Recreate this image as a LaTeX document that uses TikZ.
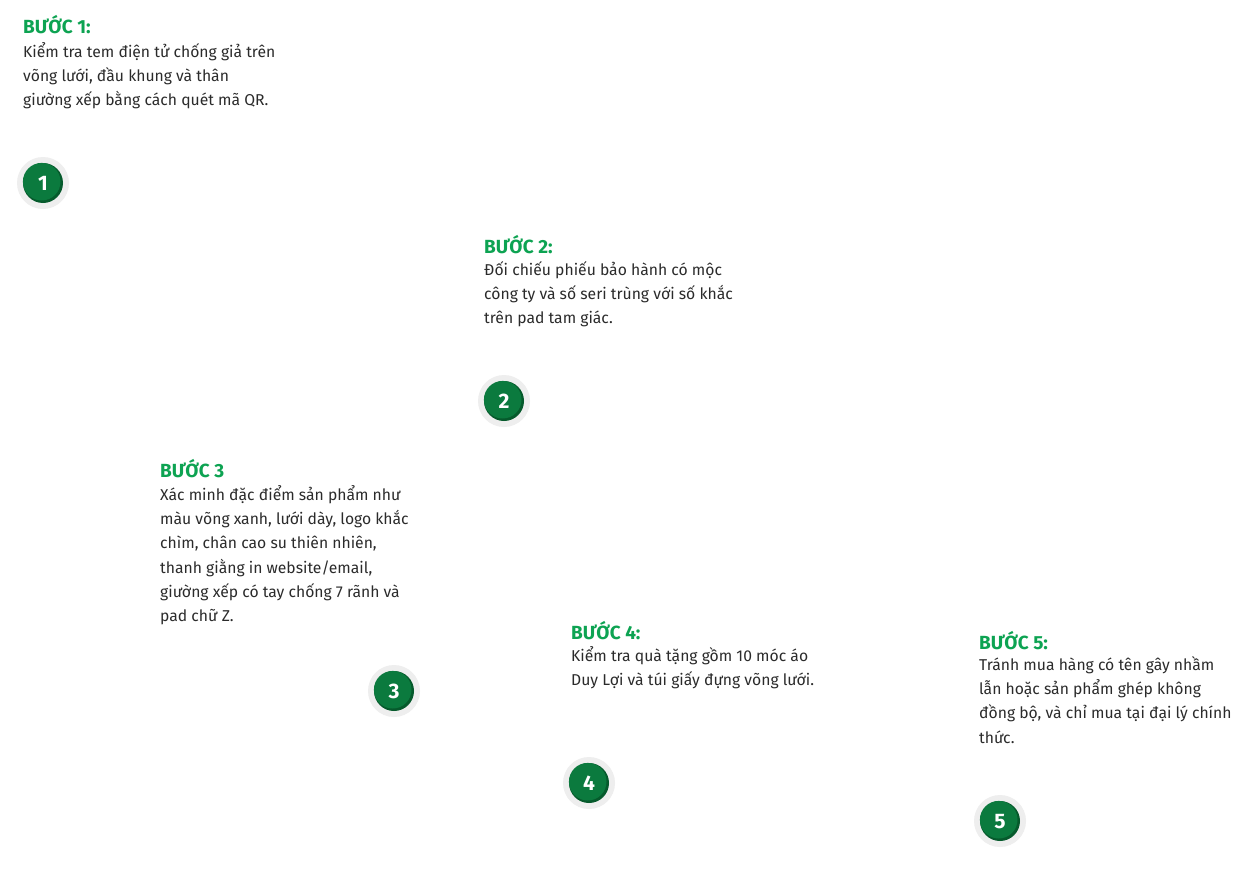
\documentclass[tikz,border=0pt]{standalone}
\usepackage{fontspec}
\setmainfont{Fira Sans}
\usetikzlibrary{calc}
\begin{document}
\begin{tikzpicture}[x=1pt,y=-1pt,
  title/.style={anchor=base west,inner sep=0pt,font=\fontsize{19}{22}\selectfont\bfseries,text=stepgreen},
  body/.style={anchor=north west,inner sep=0pt,align=left,font=\fontsize{15.7}{24.3}\selectfont,text=bodytext},
  badge/.style={circle,minimum size=52pt,inner sep=0pt,fill=ringgrey},
]
\definecolor{stepgreen}{HTML}{0DA352}
\definecolor{bodytext}{HTML}{2B2B2B}
\definecolor{ringgrey}{HTML}{EEEEEE}
\definecolor{badgegreen}{HTML}{0B7A3E}
\definecolor{badgedark}{HTML}{065A2C}
\useasboundingbox (0,0) rectangle (1251,878);
\fill[white] (0,0) rectangle (1251,878);
\newcommand{\stepbadge}[3]{%
  \node[badge] (#1) at (#2) {};
  \fill[badgedark] (#1.center) circle[radius=20];
  \fill[badgegreen] ($(#1.center)+(-1.3,-1.3)$) circle[radius=18.8];
  \node[inner sep=0pt,text=white,font=\fontsize{21}{21}\selectfont\bfseries] (#1n) at ($(#1.center)+(0,0.5)$) {#3};
}
% Step 1
\node[title] (t1) at (23,34) {BƯỚC 1:};
\node[body] (b1) at (23,42) {Kiểm tra tem điện tử chống giả trên\\võng lưới, đầu khung và thân\\giường xếp bằng cách quét mã QR.};
\stepbadge{c1}{43,183}{1}
% Step 2
\node[title] (t2) at (484,253) {BƯỚC 2:};
\node[body] (b2) at (484,261) {Đối chiếu phiếu bảo hành có mộc\\công ty và số seri trùng với số khắc\\trên pad tam giác.};
\stepbadge{c2}{504,401}{2}
% Step 3
\node[title] (t3) at (160,477) {BƯỚC 3};
\node[body] (b3) at (160,485) {Xác minh đặc điểm sản phẩm như\\màu võng xanh, lưới dày, logo khắc\\chìm, chân cao su thiên nhiên,\\thanh giằng in website/email,\\giường xếp có tay chống 7 rãnh và\\pad chữ Z.};
\stepbadge{c3}{394,691}{3}
% Step 4
\node[title] (t4) at (571,639) {BƯỚC 4:};
\node[body] (b4) at (571,646) {Kiểm tra quà tặng gồm 10 móc áo\\Duy Lợi và túi giấy đựng võng lưới.};
\stepbadge{c4}{589,783}{4}
% Step 5
\node[title] (t5) at (979,649) {BƯỚC 5:};
\node[body] (b5) at (979,656) {Tránh mua hàng có tên gây nhầm\\lẫn hoặc sản phẩm ghép không\\đồng bộ, và chỉ mua tại đại lý chính\\thức.};
\stepbadge{c5}{1000,821}{5}
\end{tikzpicture}
\end{document}
